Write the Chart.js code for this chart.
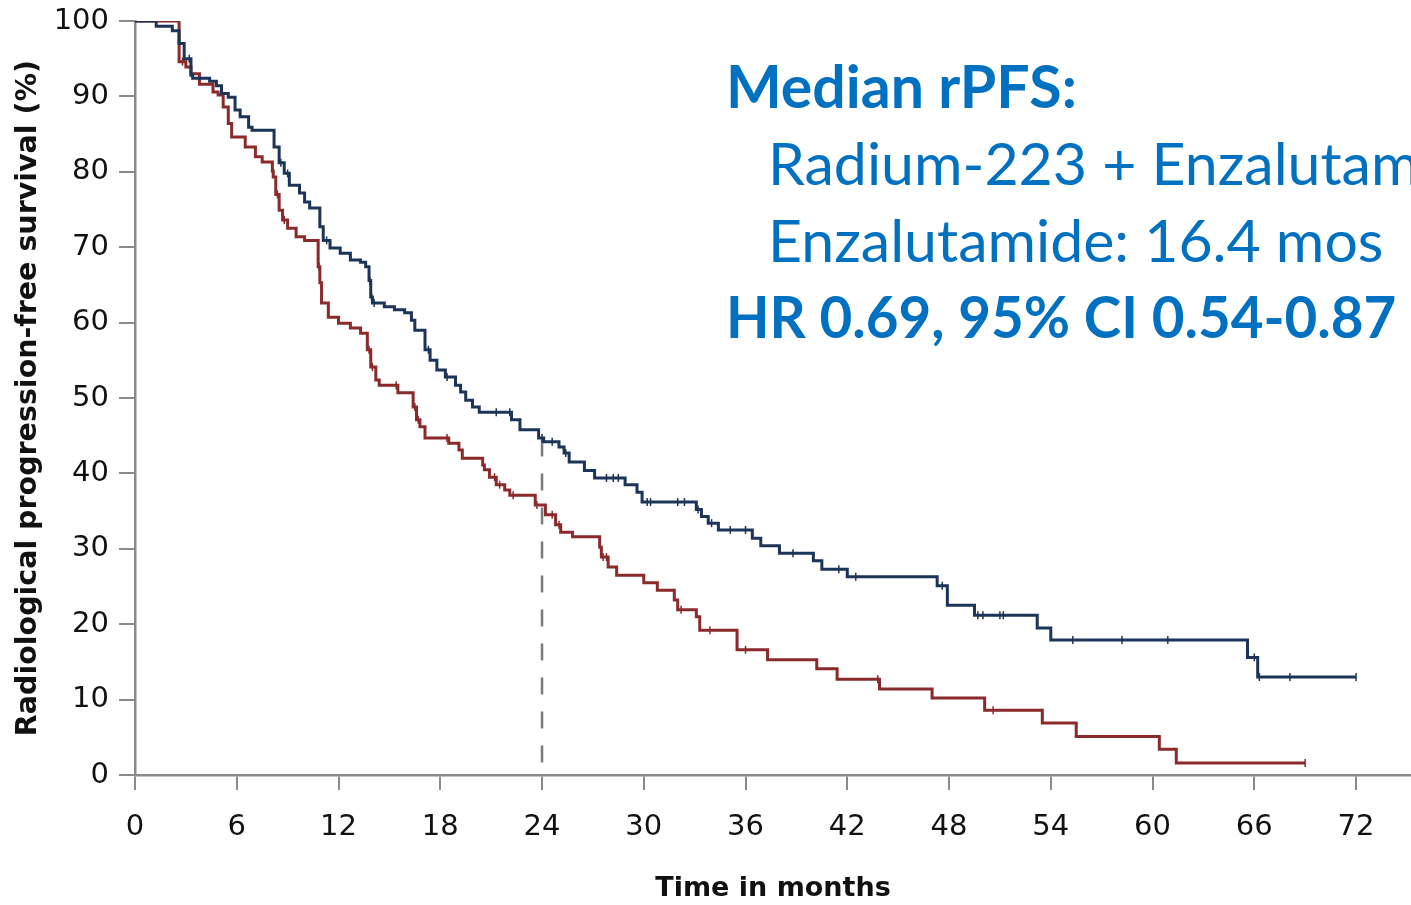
<!DOCTYPE html>
<html>
<head>
<meta charset="utf-8">
<script src="https://cdn.jsdelivr.net/npm/chart.js"></script>
<style>
  html, body { margin: 0; padding: 0; background: #fff; }
  #wrap { width: 1411px; height: 905px; position: relative; }
</style>
</head>
<body>
<div id="wrap"><canvas id="km" width="1411" height="905"></canvas></div>
<script>
// x ticks (months)
const xTicks = [0, 6, 12, 18, 24, 30, 36, 42, 48, 54, 60, 66, 72];

// Radium-223 + Enzalutamide: time of each drop and survival after it
const raTimes = [0, 1.25, 2.2, 2.6, 2.9, 3.3, 3.4, 4.4, 4.8, 5.1, 5.5, 5.9, 6.2, 6.7, 6.9,
  8.2, 8.5, 8.8, 9.1, 9.7, 10.0, 10.3, 10.9, 11.1, 11.5, 12.1, 12.7, 13.3, 13.6, 13.8, 13.9, 14.0,
  14.7, 15.3, 15.9, 16.3, 16.5, 17.1, 17.4, 17.8, 18.3, 18.9, 19.2, 19.5, 19.9, 20.3,
  22.2, 22.7, 23.8, 24.1, 25.0, 25.3, 25.6, 26.5, 27.1, 28.9, 29.6, 29.9, 33.1, 33.4, 33.8, 34.4,
  36.4, 36.9, 38.0, 40.0, 40.5, 42.0, 47.3, 47.9, 49.5, 53.2, 54.0, 65.6, 66.2, 72.0];
const raSurv = [100, 99.3, 98.7, 97, 95, 92.8, 92.4, 92, 91.4, 90.4, 89.9, 88.2, 87.3, 85.9, 85.5,
  83.3, 81.2, 79.8, 78.2, 77.2, 76, 75.2, 72.7, 70.9, 69.9, 69.2, 68.3, 68, 67.4, 65.6, 63.4, 62.6,
  62.1, 61.7, 61.3, 60.3, 59, 56.4, 55, 53.7, 52.8, 51.7, 50.8, 49.7, 48.8, 48.1,
  47.1, 45.8, 44.7, 44.2, 43.5, 42.7, 41.5, 40.4, 39.4, 38.5, 37.5, 36.2, 35.2, 34.3, 33.4, 32.5,
  31.4, 30.4, 29.4, 28.4, 27.3, 26.3, 25.1, 22.5, 21.2, 19.5, 17.9, 15.6, 13, 13];
const raCensor = [2.9, 3.2, 8.6, 9.0, 11.3, 13.85, 13.95, 14.1, 17.3, 18.4, 21.3, 22.1, 24.0, 24.6,
  25.4, 27.8, 28.2, 28.5, 30.2, 30.4, 32.0, 32.4, 33.2, 34.0, 35.1, 36.0, 38.8, 41.5, 42.5, 47.6,
  49.7, 50.0, 51.0, 51.2, 55.3, 58.2, 60.9, 66.0, 66.3, 68.1, 72.0];

// Enzalutamide
const enTimes = [0, 2.6, 3.0, 3.3, 3.8, 4.6, 4.9, 5.2, 5.5, 5.7, 6.5, 7.1, 7.5, 8.1, 8.15, 8.3, 8.5,
  8.7, 9.0, 9.5, 10.0, 10.8, 10.9, 11.0, 11.4, 12.0, 12.7, 13.3, 13.7, 13.9, 14.2, 14.4, 15.5,
  16.4, 16.6, 16.8, 17.1, 18.5, 19.1, 19.3, 20.5, 20.6, 20.9, 21.3, 21.8, 22.1, 23.6, 24.2, 24.8,
  25.1, 25.8, 27.4, 27.5, 27.9, 28.4, 30.0, 30.8, 31.8, 32.0, 33.1, 33.3, 35.5, 37.3, 40.2, 41.4,
  43.9, 47.0, 50.1, 53.5, 55.5, 60.4, 61.4, 69.0];
const enSurv = [100, 94.6, 93.9, 93, 91.6, 90.6, 90.2, 88.6, 86.4, 84.6, 83.3, 82, 81.3, 80.1, 79.3, 77, 74.9,
  73.6, 72.5, 71.4, 70.9, 67.4, 65.3, 62.6, 60.7, 59.9, 59.3, 58.6, 56.4, 54.1, 52.4, 51.7, 50.7,
  48.8, 47.1, 46.2, 44.7, 44, 43.1, 42, 41.1, 40.5, 39.5, 38.5, 37.8, 37.1, 35.8, 34.5, 33.2,
  32.2, 31.6, 30.2, 28.9, 27.6, 26.5, 25.5, 24.5, 23.2, 21.9, 21, 19.2, 16.6, 15.3, 14.1, 12.7,
  11.4, 10.2, 8.6, 6.9, 5.1, 3.4, 1.6, 1.6];
const enCensor = [2.8, 8.4, 8.8, 10.85, 13.8, 14.0, 15.4, 16.5, 16.7, 18.4, 21.2, 21.5, 22.3, 23.7,
  24.6, 25.0, 27.6, 27.8, 32.2, 33.9, 36.0, 43.8, 50.6, 69.0];

// dashed reference line at 24 months
const refTime = 24;
const refTop = 44.5;

const navy = '#1b3457';
const darkRed = '#8a2a2a';
const axisGrey = '#8a8a8a';
const textBlue = '#0070c0';

function toPoints(times, surv) {
  return times.map((t, i) => ({ x: t, y: surv[i] }));
}

function survAt(times, surv, t) {
  let v = surv[0];
  for (let i = 0; i < times.length; i++) {
    if (times[i] <= t) v = surv[i];
  }
  return v;
}

function censorPoints(times, surv, marks) {
  return marks.map(t => ({ x: t, y: survAt(times, surv, t) }));
}

const annotation = {
  id: 'annotation',
  afterDraw(chart) {
    const ctx = chart.ctx;
    ctx.save();
    ctx.fillStyle = textBlue;
    ctx.textBaseline = 'alphabetic';
    ctx.textAlign = 'left';
    ctx.font = 'bold 59px Lato';
    ctx.fillText('Median rPFS:', 726, 108);
    ctx.font = '59px Lato';
    ctx.fillText('Radium-223 + Enzalutamide', 768, 185);
    ctx.fillText('Enzalutamide: 16.4 mos', 768, 262);
    ctx.font = 'bold 56.5px Lato';
    ctx.fillText('HR 0.69, 95% CI 0.54-0.87', 726, 338);
    ctx.restore();
  }
};

const tickFont = { family: 'DejaVu Sans', size: 29 };

new Chart(document.getElementById('km'), {
  type: 'line',
  data: {
    datasets: [
      {
        label: 'Radium-223 + Enzalutamide',
        data: toPoints(raTimes, raSurv),
        stepped: 'before',
        borderColor: navy,
        borderWidth: 3,
        pointRadius: 0,
        fill: false
      },
      {
        label: 'Enzalutamide',
        data: toPoints(enTimes, enSurv),
        stepped: 'before',
        borderColor: darkRed,
        borderWidth: 3,
        pointRadius: 0,
        fill: false
      },
      {
        label: 'censor RE',
        data: censorPoints(raTimes, raSurv, raCensor),
        showLine: false,
        pointStyle: 'line',
        rotation: 90,
        pointRadius: 4,
        borderColor: navy,
        borderWidth: 1.5
      },
      {
        label: 'censor E',
        data: censorPoints(enTimes, enSurv, enCensor),
        showLine: false,
        pointStyle: 'line',
        rotation: 90,
        pointRadius: 4,
        borderColor: darkRed,
        borderWidth: 1.5
      },
      {
        label: '24 months',
        data: [{ x: refTime, y: refTop }, { x: refTime, y: 0 }],
        borderColor: '#7a7a7a',
        borderWidth: 2.5,
        borderDash: [17, 17],
        pointRadius: 0
      }
    ]
  },
  options: {
    responsive: false,
    animation: false,
    maintainAspectRatio: false,
    layout: { autoPadding: false, padding: { top: 21, right: 0, left: 0, bottom: 0 } },
    plugins: {
      legend: { display: false },
      tooltip: { enabled: false }
    },
    scales: {
      x: {
        type: 'linear',
        min: 0,
        max: 75.24,
        afterBuildTicks: s => { s.ticks = xTicks.map(v => ({ value: v })); },
        afterFit: s => { s.height = 130; s.paddingLeft = 0; s.paddingRight = 0; },
        border: { display: true, color: axisGrey, width: 2.5 },
        grid: { display: true, drawOnChartArea: false, drawTicks: true, tickLength: 15, color: axisGrey, lineWidth: 2 },
        ticks: { color: '#111', font: tickFont, padding: 20, maxRotation: 0, autoSkip: false },
        title: {
          display: true,
          text: 'Time in months',
          color: '#111',
          font: { family: 'DejaVu Sans', size: 27, weight: 'bold' },
          padding: { top: 0, bottom: 0 }
        }
      },
      y: {
        min: 0,
        max: 100,
        afterFit: s => { s.width = 135; s.paddingTop = 0; s.paddingBottom = 0; },
        border: { display: true, color: axisGrey, width: 2.5 },
        grid: { display: true, drawOnChartArea: false, drawTicks: true, tickLength: 16, color: axisGrey, lineWidth: 2 },
        ticks: { stepSize: 10, color: '#111', font: tickFont, padding: 10 },
        title: {
          display: true,
          text: 'Radiological progression-free survival (%)',
          color: '#111',
          font: { family: 'DejaVu Sans', size: 28.5, weight: 'bold' },
          padding: { top: 11, bottom: 0 }
        }
      }
    }
  },
  plugins: [annotation]
});
</script>
</body>
</html>
